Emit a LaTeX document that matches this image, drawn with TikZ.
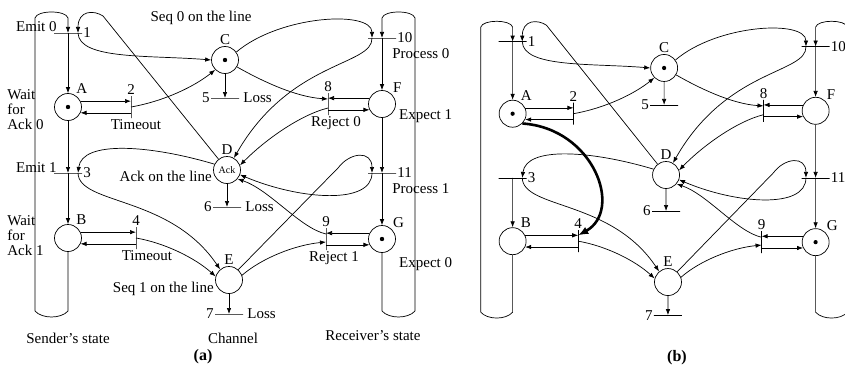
\documentclass[tikz,border=0pt]{standalone}
\usepackage{fontspec}
\setmainfont{Liberation Serif}
\usetikzlibrary{arrows.meta}

\newcommand{\drawnet}[1]{%
    \node[place, label=60:A] (A) at (68,107) {};
    \node[place, label=60:B] (B) at (68,238) {};
    \node[place, label=above:C] (C) at (225,60) {};
    \node[place, label=above:D] (D) at (227,170) {#1};
    \node[place, label=above:E] (E) at (229,280) {};
    \node[place, label=45:F] (F) at (382,104) {};
    \node[place, label=45:G] (G) at (382,239) {};
    \fill (A) circle (2.2pt) (C) circle (2.2pt) (G) circle (2.2pt);
    \node[hbar, label=right:1] (t1) at (68,33) {};
    \node[vbar, label=above:2] (t2) at (131,107) {};
    \node[hbar, label=right:3] (t3) at (68,173) {};
    \node[vbar, label=above:4] (t4) at (136,238) {};
    \node[hbar, label=left:5] (t5) at (225,98) {};
    \node[hbar, label=left:6] (t6) at (227,207) {};
    \node[hbar, label=left:7] (t7) at (229,314) {};
    \node[vbar, label=above:8] (t8) at (328,104) {};
    \node[vbar, label=above:9] (t9) at (326,239) {};
    \node[hbar, label=right:10] (t10) at (382,38) {};
    \node[hbar, label=right:11] (t11) at (382,173) {};
    \draw[->] (35,311) -- (35,18) .. controls (37,10) and (66,10) .. (68,18) -- (t1.center);
    \draw (B) -- (68,311) .. controls (61,319) and (42,319) .. (35,311);
    \draw[->] (t1.center) -- (A);
    \draw[->] (t3.center) -- (B);
    \draw[->] (415,311) -- (415,18) .. controls (413,10) and (384,10) .. (382,18) -- (t10.center);
    \draw (G) -- (382,311) .. controls (389,319) and (408,319) .. (415,311);
    \draw[->] (t10.center) -- (F);
    \draw[->] (F) -- (t11.center);
    \draw[->] (t11.center) -- (G);
    \draw[->] (A.25) -- (A.25 -| t2);
    \draw[->] (A.-25 -| t2) -- (A.-25);
    \draw[->] (B.25) -- (B.25 -| t4);
    \draw[->] (B.-25 -| t4) -- (B.-25);
    \draw[->] (F.155) -- (F.155 -| t8);
    \draw[->] (F.-155 -| t8) -- (F.-155);
    \draw[->] (G.155) -- (G.155 -| t9);
    \draw[->] (G.-155 -| t9) -- (G.-155);
    \draw[->] (C) -- (t5.center);
    \draw[->] (D) -- (t6.center);
    \draw[->] (E) -- (t7.center);
    \draw[->] (D.128) -- (103,16) .. controls (94,10) and (78,10) .. ([xshift=10pt]t1.center);
    \draw[->] ([xshift=10pt]t1.center) .. controls (79,60) and (150,55) .. (C.west);
    \draw[->] (t2.center) .. controls (165,101) and (195,86) .. (C.-135);
    \draw[->] (D.155) .. controls (150,145) and (82,140) .. ([xshift=10pt]t3.center);
    \draw[->] ([xshift=10pt]t3.center) .. controls (79,205) and (170,195) .. (E.130);
    \draw[->] (t4.center) .. controls (165,243) and (195,258) .. (E.165);
    \draw[->] (C.35) .. controls (280,15) and (372,10) .. ([xshift=-10pt]t10.center);
    \draw[->] ([xshift=-10pt]t10.center) .. controls (373,66) and (290,60) .. (D.60);
    \draw[->] (C.-30) .. controls (260,80) and (295,97) .. ([yshift=5pt]t8.center);
    \draw[->] ([yshift=-4pt]t8.center) .. controls (300,115) and (265,140) .. (D.20);
    \draw[->] (E.48) -- (338,168) .. controls (350,152) and (372,150) .. ([xshift=-10pt]t11.center);
    \draw[->] ([xshift=-10pt]t11.center) .. controls (372,205) and (300,200) .. (D.-20);
    \draw[->] (E.20) .. controls (262,258) and (295,245) .. ([yshift=-3pt]t9.center);
    \draw[->] ([yshift=5pt]t9.center) .. controls (300,228) and (270,190) .. (D.-40);
}

\begin{document}
\begin{tikzpicture}[x=1pt, y=-1pt, >={Latex[length=6pt,width=4.5pt]}, line width=0.7pt,
        font=\fontsize{15}{15}\selectfont, inner sep=1pt,
        place/.style={circle, draw, minimum size=27pt, inner sep=0pt},
        hbar/.style={draw, minimum width=28pt, minimum height=0pt, inner sep=0pt, outer sep=0pt},
        vbar/.style={draw, minimum width=0pt, minimum height=22pt, inner sep=0pt, outer sep=0pt},
        every label/.style={inner sep=1pt}]
    \path[use as bounding box, fill=white] (0,0) rectangle (845,369);

    \begin{scope}
        \drawnet{\fontsize{10}{10}\selectfont Ack}
        \draw[->] (A) -- (t3.center);
        \node[anchor=base east] (emit0) at ([xshift=4pt,yshift=1pt]t1.west) {Emit 0};
        \node[anchor=base east] (emit1) at ([xshift=4pt,yshift=1pt]t3.west) {Emit 1};
        \node[anchor=west, align=left] (wait0) at (6,110) {Wait\\for\\Ack 0};
        \node[anchor=west, align=left] (wait1) at (6,236) {Wait\\for\\Ack 1};
        \node[anchor=north] (timeout0) at ([xshift=5pt]t2.south) {Timeout};
        \node[anchor=north] (timeout1) at ([xshift=11pt]t4.south) {Timeout};
        \node[anchor=west] (loss0) at ([xshift=3pt]t5.east) {Loss};
        \node[anchor=west] (loss1) at ([xshift=3pt]t6.east) {Loss};
        \node[anchor=west] (loss2) at ([xshift=3pt]t7.east) {Loss};
        \node (seq0) at (201,18) {Seq 0 on the line};
        \node[anchor=east] (ackline) at ([yshift=-6pt]D.west) {Ack on the line};
        \node[anchor=east] (seq1) at ([yshift=-9pt]E.west) {Seq 1 on the line};
        \node[anchor=north] (reject0) at ([xshift=8pt]t8.south) {Reject 0};
        \node[anchor=north] (reject1) at ([xshift=8pt]t9.south) {Reject 1};
        \node[anchor=north west] (proc0) at ([xshift=-5pt,yshift=-9pt]t10.east) {Process 0};
        \node[anchor=north west] (proc1) at ([xshift=-5pt,yshift=-9pt]t11.east) {Process 1};
        \node[anchor=west] (expect1) at ([xshift=2pt,yshift=-12pt]F.east) {Expect 1};
        \node[anchor=west] (expect0) at ([xshift=2pt,yshift=-25pt]G.east) {Expect 0};
        \node (sender) at (68,338) {Sender's state};
        \node (channel) at (233,338) {Channel};
        \node (receiver) at (373,336) {Receiver's state};
    \end{scope}

    \begin{scope}[shift={(447,9.6)}, xscale=0.965, yscale=0.973, name prefix=b-]
        \drawnet{}
        \draw[line width=2.6pt, -{Latex[length=10pt,width=8pt]}] (A.-45) .. controls (152,122) and (183,206) .. ([yshift=6pt]t4.center);
    \end{scope}

    \node (capa) at (203,357) {\fontsize{16}{16}\selectfont\textbf{(a)}};
    \node (capb) at (677,358) {\fontsize{16}{16}\selectfont\textbf{(b)}};
\end{tikzpicture}
\end{document}
